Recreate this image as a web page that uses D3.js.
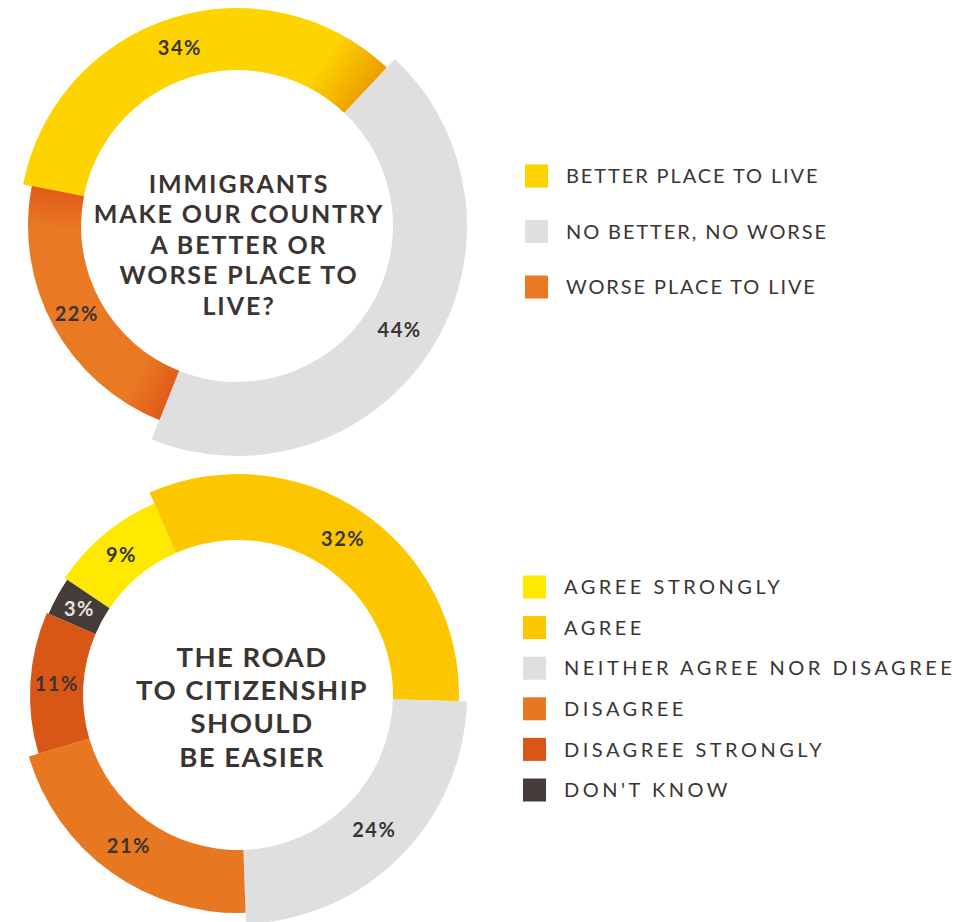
<!DOCTYPE html>
<html>
<head>
<meta charset="utf-8">
<script src="https://cdn.jsdelivr.net/npm/d3@7"></script>
<style>
  html, body { margin: 0; padding: 0; background: #ffffff; }
  svg { display: block; font-family: Lato, "Open Sans", sans-serif; }
</style>
</head>
<body>
<svg id="chart" width="976" height="922"></svg>
<script>
// Question 1: do immigrants make our country a better or worse place to live?
const placeCategories = ["BETTER PLACE TO LIVE", "NO BETTER, NO WORSE", "WORSE PLACE TO LIVE"];
const placeValues = [34, 44, 22];
const placeTitle = ["IMMIGRANTS", "MAKE OUR COUNTRY", "A BETTER OR", "WORSE PLACE TO", "LIVE?"];

// Question 2: the road to citizenship should be easier
const roadCategories = ["AGREE STRONGLY", "AGREE", "NEITHER AGREE NOR DISAGREE", "DISAGREE", "DISAGREE STRONGLY", "DON'T KNOW"];
const roadValues = [9, 32, 24, 21, 11, 3];
const roadTitle = ["THE ROAD", "TO CITIZENSHIP", "SHOULD", "BE EASIER"];

// Styling
const placeColors = ["#FDD400", "#E0DFDF", "#E97A23"];
const placeOuter = [218, 230, 209];
const roadColors = ["#FFE900", "#FDC700", "#E0DFDF", "#E87722", "#D95716", "#433C38"];
const roadOuter = [209, 221, 229, 218, 208, 206];
const textColor = "#3A3533";

const svg = d3.select("#chart");
const defs = svg.append("defs");
const rad = d => d * Math.PI / 180;
const pt = (r, a) => [r * Math.sin(a), -r * Math.cos(a)];

function donut(cfg) {
  const g = svg.append("g").attr("transform", `translate(${cfg.cx},${cfg.cy})`);
  const start = rad(cfg.startDeg);
  const pie = d3.pie().sort(null).value(d => d)
    .startAngle(start).endAngle(start + 2 * Math.PI);
  const arcs = pie(cfg.values).map(a => Object.assign(a, { outer: cfg.outer[a.index] }));
  const arc = d3.arc().innerRadius(cfg.inner).outerRadius(d => d.outer);

  g.selectAll("path.seg").data(arcs).join("path")
    .attr("class", "seg")
    .attr("d", arc)
    .attr("fill", d => cfg.colors[d.index]);

  // soft darkening where a segment folds under its neighbour
  (cfg.shades || []).forEach((s, k) => {
    const a = arcs[s.index];
    const span = rad(s.span);
    const a0 = s.side === "end" ? a.endAngle - span : a.startAngle;
    const a1 = s.side === "end" ? a.endAngle : a.startAngle + span;
    const from = s.side === "end" ? a0 : a1;
    const to = s.side === "end" ? a1 : a0;
    const rm = (cfg.inner + a.outer) / 2;
    const p0 = pt(rm, from), p1 = pt(rm, to);
    const id = `${cfg.id}-shade-${k}`;
    const lg = defs.append("linearGradient").attr("id", id)
      .attr("gradientUnits", "userSpaceOnUse")
      .attr("x1", p0[0]).attr("y1", p0[1]).attr("x2", p1[0]).attr("y2", p1[1]);
    lg.append("stop").attr("offset", 0).attr("stop-color", s.color).attr("stop-opacity", 0);
    lg.append("stop").attr("offset", 1).attr("stop-color", s.color).attr("stop-opacity", s.opacity);
    g.append("path")
      .attr("d", d3.arc()({ innerRadius: cfg.inner, outerRadius: a.outer, startAngle: a0, endAngle: a1 }))
      .attr("fill", `url(#${id})`);
  });

  // value labels
  g.selectAll("text.val").data(arcs).join("text")
    .attr("class", "val")
    .attr("transform", d => `translate(${arc.centroid(d)})`)
    .attr("text-anchor", "middle")
    .attr("dy", "0.36em")
    .attr("font-size", 20)
    .attr("font-weight", 700)
    .attr("letter-spacing", "1.5px")
    .attr("fill", d => (cfg.labelColors && cfg.labelColors[d.index]) || textColor)
    .text(d => d.data + "%");

  // centre question, one text per line
  g.selectAll("text.title").data(cfg.title).join("text")
    .attr("class", "title")
    .attr("x", cfg.titleDx)
    .attr("y", (d, i) => cfg.titleY + i * cfg.titleStep)
    .attr("text-anchor", "middle")
    .attr("font-size", cfg.titleSize)
    .attr("font-weight", 700)
    .attr("letter-spacing", cfg.titleSpacing)
    .attr("fill", textColor)
    .text(d => d);

  // legend
  const lgd = svg.append("g");
  const row = lgd.selectAll("g").data(cfg.categories).join("g")
    .attr("transform", (d, i) => `translate(${cfg.legendX},${cfg.legendY + i * cfg.legendStep})`);
  row.append("rect")
    .attr("x", 0).attr("y", -11.5)
    .attr("width", 23).attr("height", 23)
    .attr("fill", (d, i) => cfg.colors[i]);
  row.append("text")
    .attr("x", 41)
    .attr("dy", "0.36em")
    .attr("font-size", 20)
    .attr("letter-spacing", cfg.legendSpacing)
    .attr("fill", textColor)
    .text(d => d);
}

donut({
  id: "place", cx: 237, cy: 226, inner: 156, startDeg: -79,
  values: placeValues, colors: placeColors, outer: placeOuter,
  categories: placeCategories,
  title: placeTitle, titleSize: 25, titleSpacing: "1.9px", titleDx: 2, titleY: -33.5, titleStep: 30.5,
  legendX: 525, legendY: 176, legendStep: 55.5, legendSpacing: "1.9px",
  shades: [
    { index: 0, side: "end", span: 16, color: "#E99300", opacity: 0.8 },
    { index: 2, side: "start", span: 12, color: "#E04E14", opacity: 0.7 },
    { index: 2, side: "end", span: 12, color: "#E04E14", opacity: 0.7 }
  ]
});

donut({
  id: "road", cx: 238, cy: 695, inner: 155, startDeg: -56,
  values: roadValues, colors: roadColors, outer: roadOuter,
  categories: roadCategories,
  labelColors: [null, null, null, null, null, "#E6E2DE"],
  title: roadTitle, titleSize: 27.5, titleSpacing: "1.5px", titleDx: 14, titleY: -28.3, titleStep: 33.3,
  legendX: 523, legendY: 587, legendStep: 40.6, legendSpacing: "3.5px"
});
</script>
</body>
</html>
